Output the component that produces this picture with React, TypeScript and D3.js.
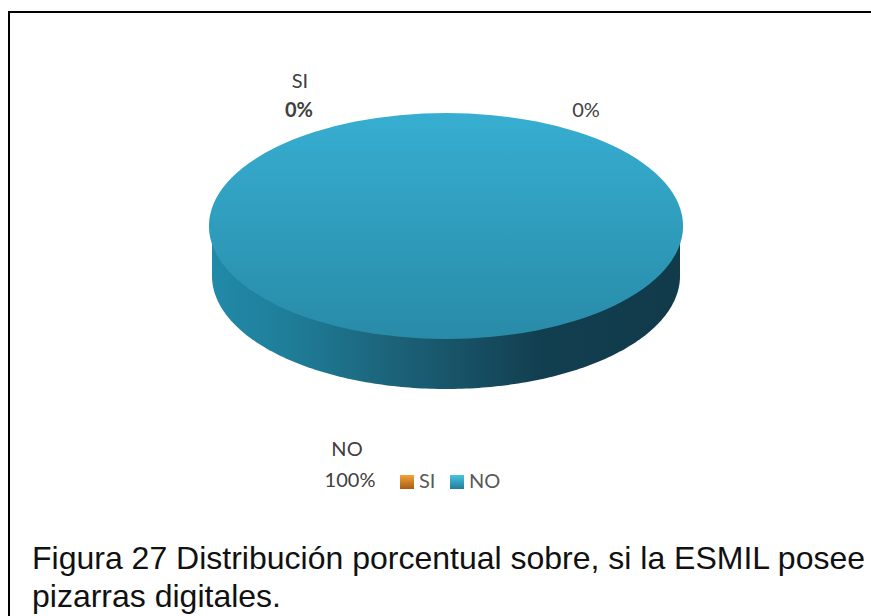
import React from "react";
import * as d3 from "d3";

const categories = ["SI", "NO"];
const values = [0, 100];
const legendColors = [["#f2a33a", "#a85c14"], ["#4cc3e0", "#1f7d99"]];
const caption = [
  "Figura 27 Distribución porcentual sobre, si la ESMIL posee",
  "pizarras digitales.",
];

const W = 871, H = 616;
const cx = 446, cy = 226, rx = 237, ry = 113, depth = 50, sideRx = 234;

export default function App() {
  const pie = d3.pie<number>().sort(null).value((d) => d)(values);
  const slice = pie[1];
  const lowerPts = d3.range(0, 181).map((i) => {
    const t = (i / 180) * Math.PI;
    return [cx + sideRx * Math.cos(t), cy + depth + ry * Math.sin(t)] as [number, number];
  });
  const side = d3.line()([[cx + sideRx, cy], ...lowerPts, [cx - sideRx, cy]])! + "Z";
  const topArc = d3.arc()({
    innerRadius: 0,
    outerRadius: rx,
    startAngle: slice.startAngle,
    endAngle: slice.endAngle,
  })!;
  const sans = "Lato, sans-serif";
  const fs = 20;
  return (
    <svg width={W} height={H} style={{ position: "absolute", left: 0, top: 0 }} fontFamily={sans}>
      <defs>
        <linearGradient id="top" x1="0" y1="0" x2="0" y2="1">
          <stop offset="0" stopColor="#37aed1" />
          <stop offset="1" stopColor="#288ba8" />
        </linearGradient>
        <linearGradient id="side" x1="0" y1="0" x2="1" y2="0">
          <stop offset="0" stopColor="#2189a8" />
          <stop offset="0.15" stopColor="#1f7f9b" />
          <stop offset="0.4" stopColor="#1b6177" />
          <stop offset="0.7" stopColor="#123f50" />
          <stop offset="1" stopColor="#113a4a" />
        </linearGradient>
        <linearGradient id="leg0" x1="0" y1="0" x2="0" y2="1">
          <stop offset="0" stopColor={legendColors[0][0]} />
          <stop offset="1" stopColor={legendColors[0][1]} />
        </linearGradient>
        <linearGradient id="leg1" x1="0" y1="0" x2="0" y2="1">
          <stop offset="0" stopColor={legendColors[1][0]} />
          <stop offset="1" stopColor={legendColors[1][1]} />
        </linearGradient>
      </defs>
      <line x1={8} y1={12} x2={W} y2={12} stroke="#000" strokeWidth={2} />
      <line x1={9} y1={11} x2={9} y2={H} stroke="#000" strokeWidth={2} />
      <path d={side} fill="url(#side)" />
      <path d={topArc} transform={`translate(${cx},${cy}) scale(1,${ry / rx})`} fill="url(#top)" />
      <text x={300} y={88} textAnchor="middle" fontSize={fs} fill="#404040">{categories[0]}</text>
      <text x={299} y={117} textAnchor="middle" fontSize={fs} fontWeight={700} fill="#404040">{values[0]}%</text>
      <text x={586} y={117} textAnchor="middle" fontSize={fs} fill="#404040">{values[0]}%</text>
      <text x={347} y={456} textAnchor="middle" fontSize={fs} fill="#404040">{categories[1]}</text>
      <text x={350} y={487} textAnchor="middle" fontSize={fs} fill="#404040">{values[1]}%</text>
      <rect x={400} y={475} width={14} height={14} fill="url(#leg0)" />
      <text x={419} y={488} fontSize={fs} fill="#595959">{categories[0]}</text>
      <rect x={450} y={475} width={14} height={14} fill="url(#leg1)" />
      <text x={469} y={488} fontSize={fs} fill="#595959">{categories[1]}</text>
      <text x={32} y={569} fontSize={32} fontFamily="'Liberation Sans', Arial, sans-serif" fill="#111">{caption[0]}</text>
      <text x={32} y={607} fontSize={32} fontFamily="'Liberation Sans', Arial, sans-serif" fill="#111">{caption[1]}</text>
    </svg>
  );
}
